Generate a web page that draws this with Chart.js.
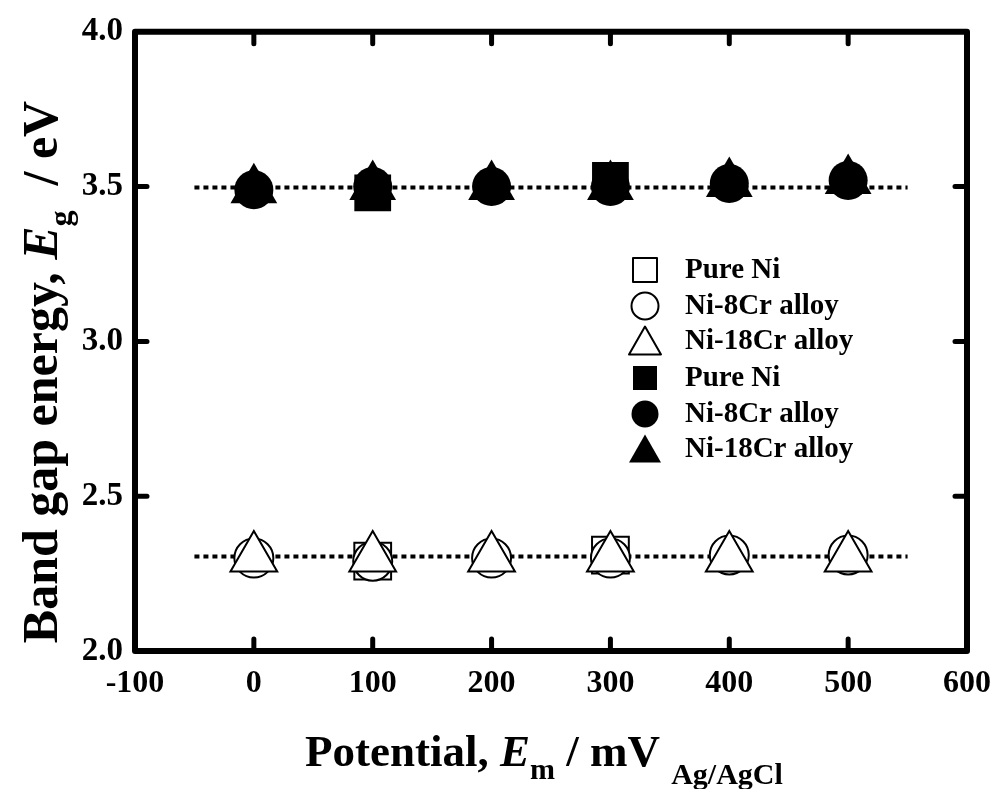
<!DOCTYPE html>
<html lang="en">
<head>
<meta charset="UTF-8">
<title>Band gap energy vs potential</title>
<script src="https://cdn.jsdelivr.net/npm/chart.js"></script>
<style>
  body { margin: 0; background: #fff; }
  #wrap { width: 1005px; height: 789px; }
</style>
</head>
<body>
<div id="wrap"><canvas id="chart" width="1005" height="789"></canvas></div>
<script>
// data (pure Ni squares only show at 100 and 300 mV)
const potentials = [0, 100, 200, 300, 400, 500];          // mV vs Ag/AgCl
const pureNiOpen    = [null, 2.29, null, 2.31, null, null];
const ni8CrOpen     = [2.30, 2.29, 2.30, 2.30, 2.31, 2.31];
const ni18CrOpen    = [2.30, 2.30, 2.30, 2.30, 2.30, 2.30];
const pureNiFilled  = [null, 3.48, null, 3.52, null, null];
const ni8CrFilled   = [3.49, 3.50, 3.50, 3.50, 3.51, 3.52];
const ni18CrFilled  = [3.49, 3.50, 3.50, 3.50, 3.51, 3.52];
const guideX = [-50, 550];
const guideLow = 2.305;
const guideHigh = 3.497;
const xTicks = [-100, 0, 100, 200, 300, 400, 500, 600];
const yTicks = [2.0, 2.5, 3.0, 3.5, 4.0];

const FONT = '"Liberation Serif", "Times New Roman", serif';

const pts = ys => potentials.map((x, i) => ({ x: x, y: ys[i] })).filter(p => p.y !== null);
const guide = y => guideX.map(x => ({ x: x, y: y }));

function marker(label, data, style, filled, order) {
  const r = style === 'circle' ? 19.5 : (style === 'rect' ? 26 : 27);
  return {
    type: 'scatter', label: label, data: pts(data), order: order,
    pointStyle: style, pointRadius: r, pointHoverRadius: r,
    backgroundColor: filled ? '#000' : '#fff',
    borderColor: '#000', borderWidth: filled ? 0 : 2
  };
}

function guideLine(y) {
  return {
    type: 'line', label: '', data: guide(y), order: 10,
    borderColor: '#000', borderWidth: 4, borderDash: [5, 4],
    pointRadius: 0, fill: false, isGuide: true
  };
}

// frame, inward ticks, axis titles and legend
const decorations = {
  id: 'decorations',
  afterDraw(chart) {
    const { ctx, chartArea: a, scales: { x, y } } = chart;
    ctx.save();
    ctx.strokeStyle = '#000';
    ctx.lineCap = 'round';
    ctx.lineWidth = 5;
    const tl = 12;
    xTicks.slice(1, -1).forEach(v => {
      const px = x.getPixelForValue(v);
      ctx.beginPath();
      ctx.moveTo(px, a.bottom); ctx.lineTo(px, a.bottom - tl);
      ctx.moveTo(px, a.top); ctx.lineTo(px, a.top + tl);
      ctx.stroke();
    });
    yTicks.slice(1, -1).forEach(v => {
      const py = y.getPixelForValue(v);
      ctx.beginPath();
      ctx.moveTo(a.left, py); ctx.lineTo(a.left + tl, py);
      ctx.moveTo(a.right, py); ctx.lineTo(a.right - tl, py);
      ctx.stroke();
    });
    ctx.lineWidth = 6;
    ctx.lineJoin = 'round';
    ctx.strokeRect(a.left, a.top, a.right - a.left, a.bottom - a.top);

    // legend
    ctx.textBaseline = 'middle';
    ctx.textAlign = 'left';
    const items = chart.data.datasets.filter(d => !d.isGuide);
    const lx = 645, tx = 685, rows = [270, 306, 341, 378, 414, 449];
    items.forEach((d, i) => {
      const cy = rows[i];
      const filled = d.backgroundColor === '#000';
      ctx.fillStyle = filled ? '#000' : '#fff';
      ctx.strokeStyle = '#000';
      ctx.lineWidth = 2;
      ctx.beginPath();
      if (d.pointStyle === 'circle') {
        ctx.arc(lx, cy, 13.5, 0, Math.PI * 2);
      } else if (d.pointStyle === 'rect') {
        ctx.rect(lx - 12, cy - 12, 24, 24);
      } else {
        ctx.moveTo(lx, cy - 14.5);
        ctx.lineTo(lx + 16, cy + 13.5);
        ctx.lineTo(lx - 16, cy + 13.5);
        ctx.closePath();
      }
      ctx.fill();
      if (!filled) ctx.stroke();
      ctx.fillStyle = '#000';
      ctx.font = 'bold 29px ' + FONT;
      ctx.fillText(d.label, tx, cy + 1);
    });

    // axis titles with italic symbols and subscripts
    ctx.textBaseline = 'alphabetic';
    const xTitle = [
      { t: 'Potential, ', s: 45 },
      { t: 'E', s: 45, it: true },
      { t: 'm', s: 30, dy: 13 },
      { t: ' / mV ', s: 45 },
      { t: 'Ag/AgCl', s: 30, dy: 18 }
    ];
    drawRich(ctx, xTitle, 305, 766);

    const yTitle = [
      { t: 'Band gap energy, ', s: 50 },
      { t: 'E', s: 50, it: true },
      { t: 'g', s: 32, dy: 14 },
      { t: '  / eV', s: 50 }
    ];
    ctx.save();
    ctx.translate(57, 0);
    ctx.rotate(-Math.PI / 2);
    const w = measureRich(ctx, yTitle);
    drawRich(ctx, yTitle, -(372 + w / 2), 0);
    ctx.restore();
    ctx.restore();
  }
};

function setFont(ctx, p) {
  ctx.font = (p.it ? 'italic ' : '') + 'bold ' + p.s + 'px ' + FONT;
}
function measureRich(ctx, parts) {
  return parts.reduce((w, p) => { setFont(ctx, p); return w + ctx.measureText(p.t).width; }, 0);
}
function drawRich(ctx, parts, x, y) {
  parts.forEach(p => {
    setFont(ctx, p);
    ctx.fillText(p.t, x, y + (p.dy || 0));
    x += ctx.measureText(p.t).width;
  });
}

new Chart(document.getElementById('chart'), {
  data: {
    datasets: [
      marker('Pure Ni', pureNiOpen, 'rect', false, 5),
      marker('Ni-8Cr alloy', ni8CrOpen, 'circle', false, 4),
      marker('Ni-18Cr alloy', ni18CrOpen, 'triangle', false, 3),
      marker('Pure Ni', pureNiFilled, 'rect', true, 5),
      marker('Ni-8Cr alloy', ni8CrFilled, 'circle', true, 4),
      marker('Ni-18Cr alloy', ni18CrFilled, 'triangle', true, 3),
      guideLine(guideLow),
      guideLine(guideHigh)
    ]
  },
  options: {
    responsive: false,
    animation: false,
    layout: { padding: { top: 28, right: 34, bottom: 0, left: 0 } },
    plugins: { legend: { display: false }, tooltip: { enabled: false } },
    scales: {
      x: {
        type: 'linear', min: -100, max: 600,
        afterFit: s => { s.height = 138; },
        afterBuildTicks: s => { s.ticks = xTicks.map(v => ({ value: v })); },
        grid: { display: false, drawTicks: false },
        border: { display: false },
        ticks: { color: '#000', padding: 14, font: { family: FONT, size: 32, weight: 'bold' } }
      },
      y: {
        type: 'linear', min: 2.0, max: 4.0,
        afterFit: s => { s.width = 135; },
        afterBuildTicks: s => { s.ticks = yTicks.map(v => ({ value: v })); },
        grid: { display: false, drawTicks: false },
        border: { display: false },
        ticks: {
          color: '#000', padding: 12,
          font: { family: FONT, size: 33, weight: 'bold' },
          callback: v => v.toFixed(1)
        }
      }
    }
  },
  plugins: [decorations]
});
</script>
</body>
</html>
